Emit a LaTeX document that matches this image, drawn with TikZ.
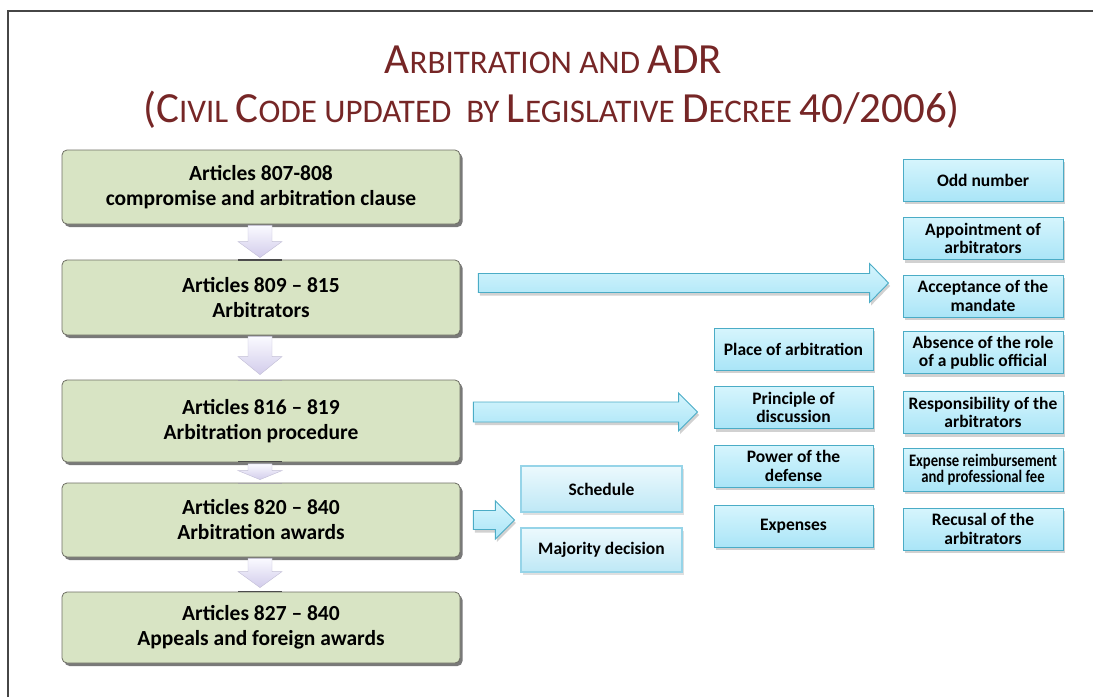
\documentclass[tikz,border=0pt]{standalone}
\usepackage{fontspec}
\setmainfont{Carlito}
\usetikzlibrary{shadows,calc}

\definecolor{titlered}{RGB}{118,38,38}
\definecolor{boxgreen}{RGB}{216,228,196}
\definecolor{boxgreenbd}{RGB}{110,110,100}
\definecolor{bluetop}{RGB}{214,245,253}
\definecolor{bluebot}{RGB}{170,229,247}
\definecolor{bluebd}{RGB}{75,172,198}
\definecolor{palebd}{RGB}{150,212,232}
\definecolor{paletop}{RGB}{236,249,253}
\definecolor{palebot}{RGB}{190,232,246}
\definecolor{lavtop}{RGB}{250,250,255}
\definecolor{lavbot}{RGB}{210,204,235}
\definecolor{framegray}{RGB}{70,70,70}

\newcommand\bigT{\fontsize{43}{46}\selectfont}
\newcommand\smT{\fontsize{33}{46}\selectfont}

\tikzset{
  titletext/.style={text=titlered, anchor=base, inner sep=0},
  greenbox/.style={draw=boxgreenbd, line width=0.8, fill=boxgreen,
    rounded corners=5, minimum width=398, align=center,
    font=\fontsize{21.5}{25}\selectfont\bfseries,
    drop shadow={shadow xshift=2.5pt, shadow yshift=-3pt, opacity=0.75,
      fill=black!70}},
  bluebox/.style={draw=bluebd, line width=0.9, top color=bluetop,
    bottom color=bluebot, minimum width=160, minimum height=42,
    align=center, inner sep=1,
    font=\fontsize{17.5}{18.5}\selectfont\bfseries,
    drop shadow={shadow xshift=2pt, shadow yshift=-3pt, opacity=0.3,
      fill=black!60}},
  palebox/.style={draw=palebd, line width=1.2, top color=paletop,
    bottom color=palebot, minimum width=161, minimum height=45,
    align=center, inner sep=1,
    font=\fontsize{17.5}{18.5}\selectfont\bfseries,
    drop shadow={shadow xshift=1.5pt, shadow yshift=-2.5pt, opacity=0.25,
      fill=black!50}},
  blockarrow/.style={draw=bluebd, line width=0.9, top color=bluetop,
    bottom color=bluebot, line join=miter,
    drop shadow={shadow xshift=1.5pt, shadow yshift=-3pt, opacity=0.3,
      fill=black!60}},
  downarrow/.style={draw=lavbot!80!gray, line width=0.4, top color=lavtop,
    bottom color=lavbot},
  arrowbase/.style={draw=black!70, line width=1.6}
}

% block arrow pointing down between two nodes
% #1 upper node, #2 lower node, #3 gap above, #4 head length, #5 gap below
\newcommand\blockdown[5]{%
  \path let \p1=(#1.south), \p2=(#2.north) in
    [downarrow] (260pt,\y1-#3) -- (272pt,\y1-#3) -- (272pt,\y2+#5+#4)
      -- (282pt,\y2+#5+#4) -- (260pt,\y2+#5) -- (238pt,\y2+#5+#4)
      -- (248pt,\y2+#5+#4) -- (248pt,\y1-#3) -- cycle;}

% block arrow pointing right from a node towards another one
% #1 source, #2 target, #3 vertical offset of the axis, #4 left gap,
% #5 right gap, #6 half shaft, #7 half head, #8 head length
\newcommand\blockright[8]{%
  \path let \p1=(#1.east), \p2=(#2.west) in
    [blockarrow] (\x1+#4,\y1+#3+#6) -- (\x2-#5-#8,\y1+#3+#6)
      -- (\x2-#5-#8,\y1+#3+#7) -- (\x2-#5,\y1+#3)
      -- (\x2-#5-#8,\y1+#3-#7) -- (\x2-#5-#8,\y1+#3-#6)
      -- (\x1+#4,\y1+#3-#6) -- cycle;}

\begin{document}
\begin{tikzpicture}[x=1pt,y=-1pt]
\useasboundingbox (0,0) rectangle (1093,697);

% page frame
\draw[framegray, line width=1.6] (8,697) -- (8,11) -- (1093,11);

% title
\node[titletext] (t1) at (553.5,73) {{\bigT A}{\smT RBITRATION AND }{\bigT ADR}};
\node[titletext] (t2) at (551.5,122) {{\bigT (C}{\smT IVIL }{\bigT C}{\smT ODE UPDATED\ \ BY }{\bigT L}{\smT EGISLATIVE }{\bigT D}{\smT ECREE }{\bigT 40/2006)}};

% main chain of articles
\node[greenbox, minimum height=74] (b1) at (261,187) {Articles 807-808\\compromise and arbitration clause};
\node[greenbox, minimum height=75] (b2) at (261,297.5) {Articles 809 – 815\\Arbitrators};
\node[greenbox, minimum height=82] (b3) at (261,421) {Articles 816 – 819\\Arbitration procedure};
\node[greenbox, minimum height=74] (b4) at (261,520) {Articles 820 – 840\\Arbitration awards};
\node[greenbox, minimum height=71] (b5) at (261,627.5) {Articles 827 – 840\\Appeals and foreign awards};

% arrows between the articles
\blockdown{b1}{b2}{1pt}{16pt}{2pt}
\blockdown{b2}{b3}{1pt}{18pt}{5pt}
\blockdown{b3}{b4}{1.5pt}{9pt}{3pt}
\blockdown{b4}{b5}{1pt}{16pt}{4pt}
\draw[arrowbase] (238,260) -- (282,260);
\draw[arrowbase, draw=black!35, line width=1] (238,380) -- (282,380);
\draw[arrowbase] (238,461.5) -- (282,461.5);
\draw[arrowbase, draw=black!35, line width=1] (238,483) -- (282,483);
\draw[arrowbase] (238,591.5) -- (282,591.5);

% arbitrators
\node[bluebox] (odd) at (983,180) {Odd number};
\node[bluebox] (app) at (983,238.5) {Appointment of\\arbitrators};
\node[bluebox] (acc) at (983,296) {Acceptance of the\\mandate};
\node[bluebox] (abs) at (983,352.5) {Absence of the role\\of a public official};
\node[bluebox] (res) at (983,412.5) {Responsibility of the\\arbitrators};
\node[bluebox, minimum height=43] (fee) at (983,469.5) {\scalebox{0.84}[1]{\fontsize{17.5}{15}\selectfont Expense reimbursement}\\[-3pt]\scalebox{0.84}[1]{\fontsize{17.5}{15}\selectfont and professional fee}};
\node[bluebox] (rec) at (983,529) {Recusal of the\\arbitrators};

% procedure
\node[bluebox, minimum width=159] (pla) at (793.5,349) {Place of arbitration};
\node[bluebox, minimum width=159] (pri) at (793.5,407.5) {Principle of\\discussion};
\node[bluebox, minimum width=159] (pow) at (793.5,466) {Power of the\\defense};
\node[bluebox, minimum width=159] (exp) at (793.5,526) {Expenses};

% awards
\node[palebox, minimum height=46] (sch) at (601.5,489) {Schedule};
\node[palebox, minimum height=44] (maj) at (601.5,550) {Majority decision};

% arrows towards the details
\blockright{b2}{acc}{14.5pt}{18pt}{14pt}{9.5pt}{19.5pt}{19pt}
\blockright{b3}{pri}{9pt}{13pt}{16pt}{10pt}{19pt}{19pt}
\path let \p1=(b4.east), \p2=(sch.south west), \p3=(maj.north west) in
  coordinate (awd) at (\x2-6pt,{(\y2+\y3)/2});
\path let \p1=(b4.east), \p2=(awd) in
  [blockarrow] (\x1+13pt,\y2+9.5pt) -- (\x2-19pt,\y2+9.5pt)
    -- (\x2-19pt,\y2+19pt) -- (\x2,\y2) -- (\x2-19pt,\y2-19pt)
    -- (\x2-19pt,\y2-9.5pt) -- (\x1+13pt,\y2-9.5pt) -- cycle;
\end{tikzpicture}
\end{document}
